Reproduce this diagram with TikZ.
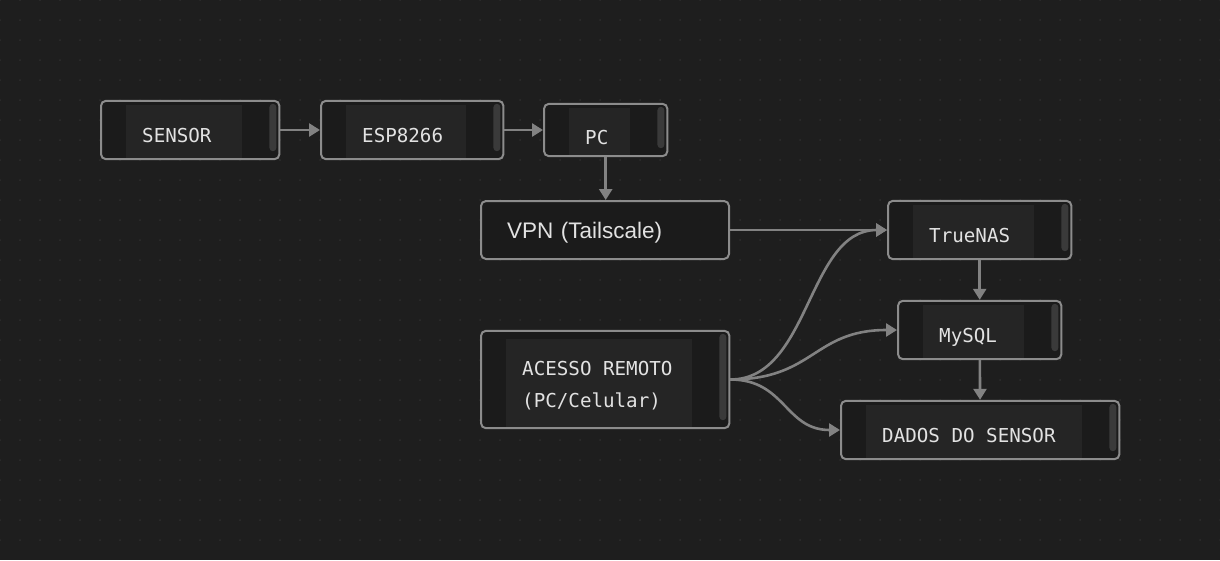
\documentclass[tikz,border=0pt]{standalone}
\usepackage{fontspec}
\setmainfont{Liberation Sans}
\newfontfamily\mono{DejaVu Sans Mono}
\newcommand\gap{\hspace*{0.602em}}
\usetikzlibrary{arrows.meta, calc, fit}
\definecolor{bg}{HTML}{1E1E1E}
\definecolor{dot}{HTML}{2E2E2E}
\definecolor{boxbg}{HTML}{1B1B1B}
\definecolor{codebg}{HTML}{252525}
\definecolor{edge}{HTML}{8C8C8C}
\definecolor{wire}{HTML}{828282}
\definecolor{bar}{HTML}{3A3A3A}
\definecolor{fg}{HTML}{E2E2E2}
\pgfdeclarelayer{back}
\pgfdeclarelayer{frames}
\pgfsetlayers{back,frames,main}
\newcommand\boxit[2][4]{%
\begin{pgfonlayer}{frames}
\node[frame, fit={($(#2-t.south west)+(-25,-1)$) ($(#2-t.north east)+(37,#1)$)}] (#2) {};
\fill[scroll] ($(#2.north east)+(-11,-4)$) rectangle ($(#2.south east)+(-4,9)$);
\end{pgfonlayer}}

\begin{document}
\begin{tikzpicture}[x=1pt, y=1pt,
  frame/.style={draw=edge, line width=2pt, fill=boxbg, rounded corners=5pt, inner sep=0pt},
  code/.style={fill=codebg, text=fg, font=\mono\fontsize{19.2pt}{32pt}\selectfont, align=left,
    inner xsep=16pt, inner ysep=0pt, text height=37pt, text depth=16pt, anchor=base west},
  scroll/.style={bar, rounded corners=3.5pt},
  arr/.style={draw=wire, line width=2.6pt, -{Triangle[length=11pt, width=13pt]}}]
\useasboundingbox (0,0) rectangle (1220,-560);
\begin{pgfonlayer}{back}
\fill[bg] (0,0) rectangle (1220,-560);
\foreach \x in {0,20,...,1220} {
  \foreach \y in {0,20,...,540} {\fill[dot] (\x,-\y) circle (1pt);}
}
\end{pgfonlayer}

\node[code, text width=84pt] (sensor-t) at (126,-142) {SENSOR};
\node[code, text width=88pt] (esp-t) at (346,-142) {ESP8266};
\node[code, text width=29pt, text height=36pt, text depth=11pt] (pc-t) at (569,-144) {PC};
\node[code, text width=89pt] (truenas-t) at (913,-242) {TrueNAS};
\node[code, text width=69pt] (mysql-t) at (923,-342) {MySQL};
\node[code, text width=184pt] (dados-t) at (866,-442) {DADOS\gap DO\gap SENSOR};
\node[code, text width=154pt, text height=36pt, text depth=52pt] (acesso-t) at (506,-375) {ACESSO\gap REMOTO\\(PC/Celular)};
\boxit{sensor}
\boxit{esp}
\boxit{pc}
\boxit{truenas}
\boxit{mysql}
\boxit{dados}
\boxit[8]{acesso}
\node[frame, minimum width=248pt, minimum height=58pt, text width=196pt, inner xsep=26pt, align=left,
  font=\fontsize{22.5pt}{26pt}\selectfont, text=fg, text height=16pt, text depth=0pt] (vpn) at (605,-230) {VPN (Tailscale)};

\draw[arr] (sensor) -- (esp);
\draw[arr] (esp) -- (pc);
\draw[arr] (pc) -- (pc |- vpn.north);
\draw[arr] (vpn) -- (truenas);
\draw[arr] (truenas) -- (mysql);
\draw[arr] (mysql) -- (dados);
\draw[arr] (acesso.east) .. controls +(80,0) and +(-80,0) .. (truenas.west);
\draw[arr] (acesso.east) .. controls +(84,0) and +(-84,0) .. (mysql.west);
\draw[arr] (acesso.east) .. controls +(55,0) and +(-55,0) .. (dados.west);
\end{tikzpicture}
\end{document}
